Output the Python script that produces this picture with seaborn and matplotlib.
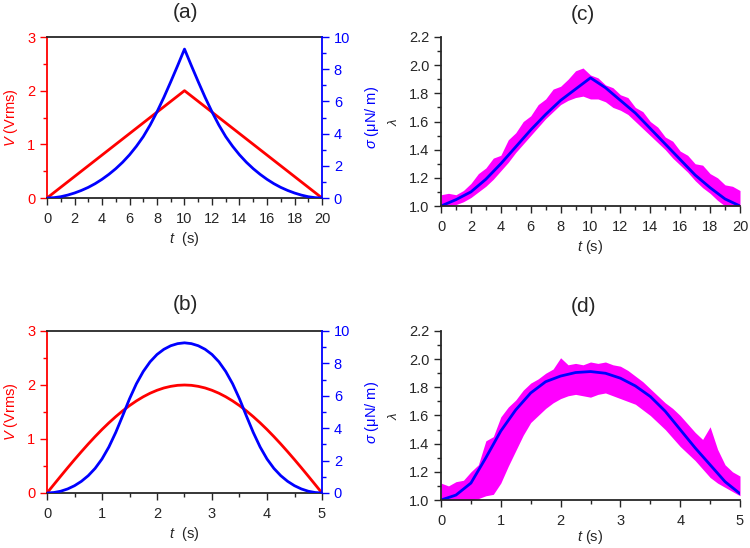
import numpy as np
import matplotlib
matplotlib.use("Agg")
import matplotlib.pyplot as plt
from matplotlib.ticker import MultipleLocator, FormatStrFormatter
import seaborn as sns

# ---- data ----
# (a) triangular voltage ramp, 0 -> 20 s
t_a_V = [0, 10, 20]
V_a = [0, 2.0, 0]
t_a = [i * 0.5 for i in range(41)]
sigma_a = [0, 0.02, 0.08, 0.18, 0.31, 0.47, 0.66, 0.89, 1.16, 1.47, 1.82,
           2.22, 2.68, 3.21, 3.81, 4.53, 5.35, 6.25, 7.22, 8.22, 9.25,
           8.22, 7.22, 6.25, 5.35, 4.53, 3.81, 3.21, 2.68, 2.22, 1.82,
           1.47, 1.16, 0.89, 0.66, 0.47, 0.31, 0.18, 0.08, 0.02, 0]

# (b) sine voltage, 0 -> 5 s
t_b = [i * 0.125 for i in range(41)]
V_b = [0, 0.157, 0.313, 0.467, 0.618, 0.765, 0.908, 1.045, 1.176, 1.299, 1.414,
       1.521, 1.618, 1.705, 1.782, 1.848, 1.902, 1.945, 1.975, 1.994, 2.0,
       1.994, 1.975, 1.945, 1.902, 1.848, 1.782, 1.705, 1.618, 1.521, 1.414,
       1.299, 1.176, 1.045, 0.908, 0.765, 0.618, 0.467, 0.313, 0.157, 0]
sigma_b = [0, 0.03, 0.11, 0.25, 0.45, 0.72, 1.07, 1.52, 2.10, 2.84, 3.74,
           4.76, 5.81, 6.74, 7.50, 8.10, 8.55, 8.87, 9.09, 9.22, 9.27,
           9.22, 9.09, 8.87, 8.55, 8.10, 7.50, 6.74, 5.81, 4.76, 3.74,
           2.84, 2.10, 1.52, 1.07, 0.72, 0.45, 0.25, 0.11, 0.03, 0]

# (c) stretch ratio for triangular drive
t_c = list(range(21))
lam_c = [1.00, 1.045, 1.10, 1.19, 1.30, 1.42, 1.54, 1.65, 1.75, 1.83, 1.91,
         1.84, 1.75, 1.66, 1.55, 1.44, 1.33, 1.22, 1.13, 1.05, 1.00]
t_c_band = [i * 0.5 for i in range(41)]
lam_c_hi = [1.08, 1.09, 1.08, 1.11, 1.16, 1.23, 1.27, 1.34, 1.36, 1.47, 1.52,
            1.60, 1.64, 1.72, 1.76, 1.83, 1.85, 1.90, 1.96, 1.98, 1.93,
            1.91, 1.86, 1.84, 1.79, 1.77, 1.70, 1.67, 1.60, 1.56, 1.49,
            1.46, 1.39, 1.36, 1.30, 1.29, 1.23, 1.20, 1.15, 1.14, 1.11]
lam_c_lo = [1.00, 1.00, 1.01, 1.03, 1.06, 1.10, 1.14, 1.19, 1.25, 1.31, 1.38,
            1.44, 1.50, 1.56, 1.62, 1.67, 1.72, 1.75, 1.77, 1.78, 1.76,
            1.76, 1.74, 1.70, 1.68, 1.65, 1.60, 1.55, 1.50, 1.45, 1.40,
            1.34, 1.29, 1.24, 1.18, 1.13, 1.09, 1.04, 1.00, 1.00, 1.00]

# (d) stretch ratio for sine drive
t_d = [i * 0.25 for i in range(21)]
lam_d = [1.00, 1.035, 1.12, 1.30, 1.49, 1.64, 1.76, 1.84, 1.88, 1.905, 1.912,
         1.90, 1.865, 1.81, 1.735, 1.63, 1.50, 1.37, 1.25, 1.13, 1.045]
t_d_band = [i * 0.125 for i in range(41)]
lam_d_hi = [1.12, 1.10, 1.13, 1.14, 1.20, 1.25, 1.42, 1.45, 1.59, 1.66, 1.71,
            1.78, 1.83, 1.86, 1.90, 1.93, 2.01, 1.96, 1.97, 1.96, 1.98,
            1.97, 1.98, 1.96, 1.95, 1.92, 1.88, 1.84, 1.79, 1.74, 1.69,
            1.65, 1.60, 1.54, 1.48, 1.43, 1.52, 1.36, 1.25, 1.20, 1.17]
lam_d_lo = [1.00, 1.00, 1.00, 1.00, 1.00, 1.01, 1.03, 1.04, 1.12, 1.24, 1.35,
            1.46, 1.55, 1.60, 1.65, 1.69, 1.72, 1.74, 1.75, 1.74, 1.73,
            1.75, 1.76, 1.74, 1.72, 1.70, 1.68, 1.64, 1.60, 1.55, 1.50,
            1.44, 1.38, 1.33, 1.28, 1.22, 1.16, 1.12, 1.09, 1.06, 1.03]

RED = '#FF0000'
BLUE = '#0000FF'
MAG = '#FF00FF'

sns.set_style("ticks")
plt.rcParams['font.family'] = ['Liberation Sans', 'DejaVu Sans']
plt.rcParams['mathtext.fontset'] = 'custom'
plt.rcParams['mathtext.rm'] = 'Liberation Sans'
plt.rcParams['mathtext.it'] = 'Liberation Sans:italic'
plt.rcParams['xtick.direction'] = 'out'
plt.rcParams['ytick.direction'] = 'out'

FS = 10.5

fig = plt.figure(figsize=(7.5, 5.48), dpi=100)


def style_ticks(ax):
    ax.tick_params(which='major', length=5, width=1, labelsize=FS)
    ax.tick_params(which='minor', length=3, width=1)
    ax.tick_params(axis='x', which='major', pad=5)
    ax.tick_params(axis='y', which='major', pad=3.5)


def voltage_panel(rect, t_v, v, t_s, s, xmax, xmaj, xmin_step, title, ty):
    ax = fig.add_axes(rect)
    sns.lineplot(x=t_v, y=v, ax=ax, color=RED, lw=2)
    ax2 = ax.twinx()
    sns.lineplot(x=t_s, y=s, ax=ax2, color=BLUE, lw=2)
    ax.set_xlim(0, xmax)
    ax.set_ylim(0, 3)
    ax2.set_ylim(0, 10)
    ax.xaxis.set_major_locator(MultipleLocator(xmaj))
    ax.xaxis.set_minor_locator(MultipleLocator(xmin_step))
    ax.yaxis.set_major_locator(MultipleLocator(1))
    ax.yaxis.set_minor_locator(MultipleLocator(0.5))
    ax2.yaxis.set_major_locator(MultipleLocator(2))
    ax2.yaxis.set_minor_locator(MultipleLocator(1))
    for a in (ax, ax2):
        style_ticks(a)
        for sp in a.spines.values():
            sp.set_linewidth(1.3)
    ax.spines['left'].set_color(RED)
    ax.spines['right'].set_visible(False)
    ax2.spines['left'].set_visible(False)
    ax2.spines['top'].set_visible(False)
    ax2.spines['bottom'].set_visible(False)
    ax2.spines['right'].set_color(BLUE)
    ax.tick_params(axis='y', which='both', colors=RED)
    ax2.tick_params(axis='y', which='both', colors=BLUE)
    ax.set_ylabel(r'$V$ (Vrms)', color=RED, fontsize=FS, labelpad=5)
    ax2.set_ylabel(r'$\sigma$ (μN/ m)', color=BLUE, fontsize=FS, labelpad=9)
    ax.set_xlabel(r'$t$  (s)', fontsize=FS, labelpad=3)
    fig.text(185 / 750, 1 - ty / 548, title, ha='center', va='center', fontsize=15)
    return ax


def lambda_panel(rect, t_b_, hi, lo, t_l, lam, xmax, xmaj, xmin_step, title, ty, xpad):
    ax = fig.add_axes(rect)
    ax.fill_between(t_b_, lo, hi, color=MAG, lw=0)
    sns.lineplot(x=t_l, y=lam, ax=ax, color=BLUE, lw=2)
    ax.set_xlim(0, xmax)
    ax.set_ylim(1.0, 2.2)
    ax.xaxis.set_major_locator(MultipleLocator(xmaj))
    ax.xaxis.set_minor_locator(MultipleLocator(xmin_step))
    ax.yaxis.set_major_locator(MultipleLocator(0.2))
    ax.yaxis.set_minor_locator(MultipleLocator(0.1))
    ax.yaxis.set_major_formatter(FormatStrFormatter('%.1f'))
    sns.despine(ax=ax)
    for sp in ax.spines.values():
        sp.set_linewidth(1.3)
    style_ticks(ax)
    ax.set_ylabel(r'$\lambda$', fontsize=9.5, labelpad=6)
    ax.set_xlabel(r'$t$ (s)', fontsize=FS, labelpad=xpad)
    fig.text(583 / 750, 1 - ty / 548, title, ha='center', va='center', fontsize=15)
    return ax


voltage_panel([47 / 750, 1 - 198 / 548, 275 / 750, 161 / 548],
              t_a_V, V_a, t_a, sigma_a, 20, 2, 1, '(a)', 13)
voltage_panel([47 / 750, 1 - 493 / 548, 275 / 750, 162 / 548],
              t_b, V_b, t_b, sigma_b, 5, 1, 0.5, '(b)', 304)
lambda_panel([441 / 750, 1 - 206 / 548, 299 / 750, 169 / 548],
             t_c_band, lam_c_hi, lam_c_lo, t_c, lam_c, 20, 2, 1, '(c)', 14, 3)
lambda_panel([441 / 750, 1 - 500 / 548, 299 / 750, 169 / 548],
             t_d_band, lam_d_hi, lam_d_lo, t_d, lam_d, 5, 1, 0.5, '(d)', 306, 0)

fig.savefig('out.png', dpi=100)
